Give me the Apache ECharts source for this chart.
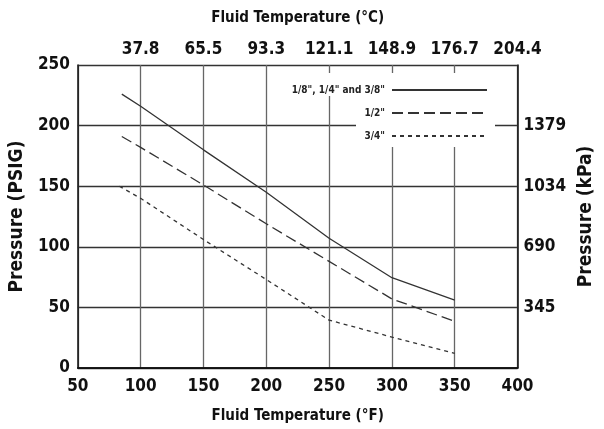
<!DOCTYPE html>
<html>
<head>
<meta charset="utf-8">
<script src="https://cdn.jsdelivr.net/npm/echarts@6/dist/echarts.min.js"></script>
<style>
  html, body { margin: 0; padding: 0; background: #fff; }
  #main { width: 604px; height: 429px; }
</style>
</head>
<body>
<div id="main"></div>
<script>
var FONT = "'Liberation Sans Narrow', 'DejaVu Sans Condensed', 'Arial Narrow', sans-serif";

// tick labels
var tempTicksF = [50, 100, 150, 200, 250, 300, 350, 400];
var tempLabelsC = ['', '37.8', '65.5', '93.3', '121.1', '148.9', '176.7', '204.4'];
var psiTicks = [0, 50, 100, 150, 200, 250];
var kpaLabels = ['', '345', '690', '1034', '1379', ''];

// series
var seriesNames = ['1/8", 1/4" and 3/8"', '1/2"', '3/4"'];
var smallF = [85, 100, 150, 200, 250, 300, 350];
var smallPsi = [226, 216, 180, 145, 107, 74.5, 56];
var halfF = [85, 100, 150, 200, 250, 300, 350];
var halfPsi = [191, 182, 151, 119, 88, 57, 38.5];
var threeQF = [83, 100, 150, 200, 250, 300, 350];
var threeQPsi = [150, 140, 106, 73, 39.5, 25.5, 12];

function pairs(xs, ys) {
  return xs.map(function (x, i) { return [x, ys[i]]; });
}

var chart = echarts.init(document.getElementById('main'));

var labelStyle = { fontFamily: FONT, fontWeight: 'bold', fontSize: 17, color: '#111' };
var nameStyle = { fontFamily: FONT, fontWeight: 'bold', color: '#111' };

var option = {
  animation: false,
  color: ['#333', '#333', '#333'],
  grid: { left: 76, right: 81, top: 65, bottom: 61 },
  legend: {
    orient: 'vertical',
    right: 116,
    top: 84,
    align: 'right',
    padding: 0,
    itemWidth: 95,
    itemHeight: 10,
    itemGap: 11,
    data: seriesNames,
    itemStyle: { opacity: 0 },
    textStyle: { fontFamily: FONT, fontWeight: 'bold', fontSize: 10, color: '#222', backgroundColor: '#fff', padding: [1, 2] }
  },
  xAxis: [{
    type: 'value', position: 'bottom', min: 50, max: 400, interval: 50,
    name: 'Fluid Temperature (°F)', nameLocation: 'middle', nameGap: 41,
    nameTextStyle: Object.assign({ fontSize: 15 }, nameStyle),
    axisLine: { lineStyle: { color: '#111', width: 1.5 } },
    axisTick: { show: false },
    axisLabel: Object.assign({ margin: 10 }, labelStyle),
    splitLine: { show: true, lineStyle: { color: '#666', width: 1.3 } }
  }, {
    type: 'value', position: 'top', min: 50, max: 400, interval: 50,
    name: 'Fluid Temperature (°C)', nameLocation: 'middle', nameGap: 39,
    nameTextStyle: Object.assign({ fontSize: 15 }, nameStyle),
    axisLine: { lineStyle: { color: '#111', width: 1.5 } },
    axisTick: { show: false },
    axisLabel: Object.assign({
      margin: 7,
      formatter: function (v) { return tempLabelsC[tempTicksF.indexOf(v)] || ''; }
    }, labelStyle),
    splitLine: { show: false }
  }],
  yAxis: [{
    type: 'value', position: 'left', min: 0, max: 250, interval: 50,
    name: 'Pressure (PSIG)', nameLocation: 'middle', nameGap: 45,
    nameTextStyle: Object.assign({ fontSize: 19 }, nameStyle),
    axisLine: { show: true, lineStyle: { color: '#111', width: 1.5 } },
    axisTick: { show: false },
    axisLabel: Object.assign({ margin: 8 }, labelStyle),
    splitLine: { show: true, lineStyle: { color: '#333', width: 1.3 } }
  }, {
    type: 'value', position: 'right', min: 0, max: 250, interval: 50,
    name: 'Pressure (kPa)', nameLocation: 'middle', nameGap: 54,
    nameTextStyle: Object.assign({ fontSize: 19 }, nameStyle),
    axisLine: { show: true, lineStyle: { color: '#111', width: 1.5 } },
    axisTick: { show: false },
    axisLabel: Object.assign({
      margin: 6,
      formatter: function (v) { return kpaLabels[psiTicks.indexOf(v)] || ''; }
    }, labelStyle),
    splitLine: { show: false }
  }],
  // white patches where the grid is broken behind the key
  graphic: {
    elements: [
      { type: 'rect', z: 1, silent: true, shape: { x: 356, y: 73, width: 139, height: 74 }, style: { fill: '#fff' } },
      { type: 'rect', z: 1, silent: true, shape: { x: 326, y: 73, width: 14, height: 12 }, style: { fill: '#fff' } }
    ]
  },
  series: [{
    name: seriesNames[0], type: 'line', symbol: 'none',
    data: pairs(smallF, smallPsi),
    lineStyle: { color: '#333', width: 1.3, type: 'solid' }
  }, {
    name: seriesNames[1], type: 'line', symbol: 'none',
    data: pairs(halfF, halfPsi),
    lineStyle: { color: '#333', width: 1.3, type: [11, 5] }
  }, {
    name: seriesNames[2], type: 'line', symbol: 'none',
    data: pairs(threeQF, threeQPsi),
    lineStyle: { color: '#333', width: 1.3, type: [4, 4] }
  }]
};

chart.setOption(option);
</script>
</body>
</html>
